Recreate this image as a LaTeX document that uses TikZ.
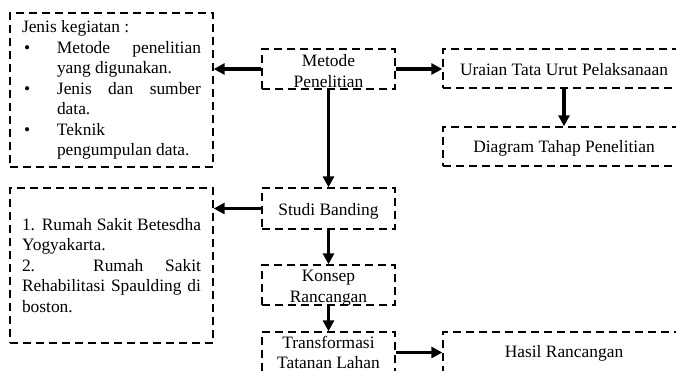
\documentclass[tikz,border=0pt]{standalone}
\usepackage{fontspec}
\setmainfont{Liberation Serif}
\usetikzlibrary{arrows.meta}

\begin{document}
\begin{tikzpicture}[x=1pt,y=-1pt,font=\fontsize{17.4}{20.5}\selectfont,
  box/.style={draw,line width=1.4pt,dash pattern=on 8pt off 5pt,inner sep=0pt,
    minimum width=133pt,align=center},
  listbox/.style={box,align=justify,text width=179pt,inner xsep=12pt,
    minimum width=203pt},
  arr/.style={line width=3.2pt,-{Triangle[length=11pt,width=11pt]}}]
\useasboundingbox (0,0) rectangle (676,371);
\clip (0,0) rectangle (676,371);
% ---- middle column ----
\node[box,minimum height=40pt,text height=38.5pt,text depth=1.5pt] (metode)
  at (328.5,69) {Metode\\Penelitian};
\node[box,minimum height=41pt,text height=27pt,text depth=14pt] (studi)
  at (328.5,208.5) {Studi Banding};
\node[box,minimum height=40pt,text height=37pt,text depth=3pt] (konsep)
  at (328.5,285) {Konsep\\Rancangan};
\node[box,minimum height=41pt,text height=36.5pt,text depth=4.5pt] (transformasi)
  at (328.5,352.5) {Transformasi\\Tatanan Lahan};
% ---- right column ----
\node[box,minimum width=242pt,minimum height=39pt,text height=27pt,text depth=12pt]
  (uraian) at (564,68.5) {Uraian Tata Urut Pelaksanaan};
\node[box,minimum width=242pt,minimum height=39pt,text height=26pt,text depth=13pt]
  (diagram) at (564,146.5) {Diagram Tahap Penelitian};
\node[box,minimum width=242pt,minimum height=41pt,text height=25pt,text depth=16pt]
  (hasil) at (564,352.5) {Hasil Rancangan};
% ---- left column: lists ----
\node[listbox,minimum height=154pt,text height=20pt,text depth=134pt] (kegiatan)
  at (111.5,90) {Jenis kegiatan :\par
  {\hangindent=35pt\hangafter=1\noindent\makebox[35pt][l]{\hspace{2pt}\textbullet}%
   Metode penelitian\linebreak yang digunakan.\par}
  {\hangindent=35pt\hangafter=1\noindent\makebox[35pt][l]{\hspace{2pt}\textbullet}%
   Jenis dan sumber\linebreak data.\par}
  {\hangindent=35pt\hangafter=1\noindent\makebox[35pt][l]{\hspace{2pt}\textbullet}%
   Teknik\newline pengumpulan data.\par}};
\node[listbox,minimum height=155pt,text height=42pt,text depth=113pt] (banding)
  at (111.5,265.5) {1. Rumah Sakit Betesdha\linebreak Yogyakarta.\par
  2. Rumah Sakit\linebreak Rehabilitasi Spaulding di\linebreak boston.};
% ---- connectors ----
\draw[arr] (metode.west) -- (metode.west -| kegiatan.east);
\draw[arr] (metode.east) -- (metode.east -| uraian.west);
\draw[arr] (uraian.south) -- (diagram.north);
\draw[arr] (metode.south) -- (studi.north);
\draw[arr] (studi.west) -- (studi.west -| banding.east);
\draw[arr] (studi.south) -- (konsep.north);
\draw[arr] (konsep.south) -- (transformasi.north);
\draw[arr] (transformasi.east) -- (transformasi.east -| hasil.west);
\end{tikzpicture}
\end{document}
